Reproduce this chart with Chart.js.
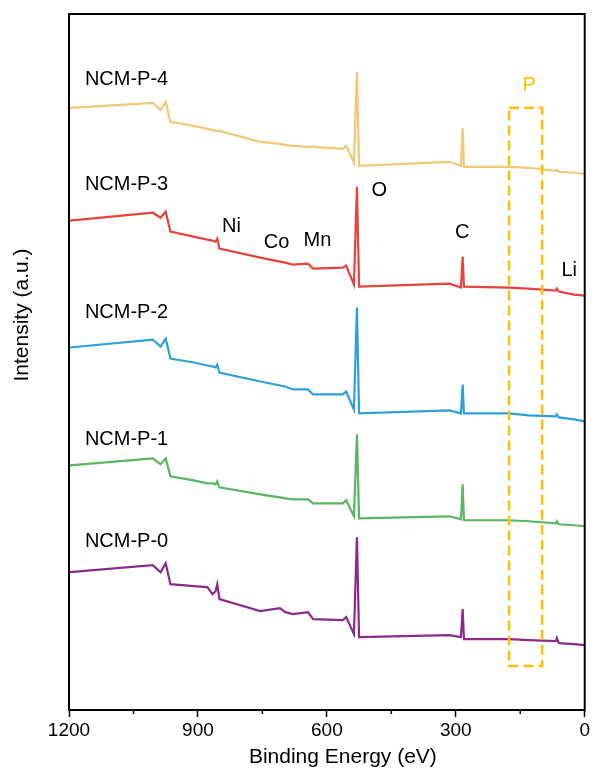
<!DOCTYPE html>
<html>
<head>
<meta charset="utf-8">
<script src="https://cdn.jsdelivr.net/npm/chart.js@4.4.1/dist/chart.umd.min.js"></script>
<style>
  html, body { margin: 0; padding: 0; background: #fff; }
</style>
</head>
<body>
<canvas id="xps" width="592" height="772"></canvas>
<script>
const energies = [1198, 1005, 987, 975, 964, 910, 878, 866, 859, 855, 850, 755, 709, 697, 679, 644, 632,
                  563, 555, 537, 530, 525, 315, 288, 284, 281, 176, 130, 67, 65, 60, 25, 0];

// stacked intensities (a.u.), one list per sample
const ncmP4 = [603, 608, 601, 609, 589, 585, 582, 581, 580, 580, 580, 569, 567, 566, 565, 564, 564,
               562, 565, 548, 639, 545, 549, 545, 583, 544, 544, 543, 540, 541, 539, 538, 537];
const ncmP3 = [490, 498, 493, 499, 479, 474, 471, 470, 469, 472, 462, 453, 449, 448, 446, 447, 442,
               443, 445, 426, 524, 424, 427, 423, 454, 424, 423, 422, 420, 422, 419, 416, 415];
const ncmP2 = [363, 371, 364, 372, 352, 348, 345, 344, 343, 346, 338, 329, 325, 324, 321, 321, 316,
               316, 319, 301, 403, 297, 300, 297, 326, 297, 297, 295, 294, 296, 293, 291, 289];
const ncmP1 = [245, 252, 246, 252, 234, 230, 227, 227, 226, 229, 223, 216, 213, 212, 211, 211, 207,
               207, 210, 194, 276, 192, 194, 191, 226, 190, 190, 189, 187, 189, 186, 185, 184];
const ncmP0 = [138, 145, 138, 147, 126, 124, 123, 116, 119, 126, 111, 99, 102, 98, 96, 98, 91,
               90, 93, 76, 173, 73, 75, 73, 101, 71, 71, 70, 69, 72, 67, 66, 65];

const sampleNames = ["NCM-P-4", "NCM-P-3", "NCM-P-2", "NCM-P-1", "NCM-P-0"];
const sampleData = [ncmP4, ncmP3, ncmP2, ncmP1, ncmP0];
const sampleColors = ["#F3C778", "#E5433B", "#2E9FD9", "#5CB560", "#8B2A8C"];

// element labels and the P 2p window
const elementNames = ["Ni", "Co", "Mn", "O", "C", "Li"];
const xTickValues = [1200, 900, 600, 300, 0];

// where the text annotations sit, in data units
const sampleLabelAt = { energy: 1163, intensity: [631, 526, 398, 271, 169] };
const elementLabelAt = { energy: [822, 717, 622, 478, 285, 36], intensity: [484, 468, 470, 520, 478, 440] };
const pWindow = { from: 176, to: 99, low: 44, high: 603, labelEnergy: 129, labelIntensity: 625 };

const FONT = '"Liberation Sans", Arial, sans-serif';

const datasets = sampleData.map((vals, i) => ({
    label: sampleNames[i],
    data: energies.map((e, k) => ({ x: e, y: vals[k] })),
    borderColor: sampleColors[i],
    borderWidth: 2.2,
    pointRadius: 0,
    tension: 0,
    fill: false
}));

const decor = {
    id: "decor",
    afterDatasetsDraw(chart) {
        const { ctx, chartArea: a, scales: { x, y } } = chart;
        ctx.save();

        // dashed P window
        ctx.strokeStyle = "#FFC000";
        ctx.lineWidth = 2.5;
        ctx.setLineDash([10, 5]);
        const bx1 = x.getPixelForValue(pWindow.from), bx2 = x.getPixelForValue(pWindow.to);
        const by1 = y.getPixelForValue(pWindow.high), by2 = y.getPixelForValue(pWindow.low);
        ctx.strokeRect(bx1, by1, bx2 - bx1, by2 - by1);
        ctx.setLineDash([]);

        ctx.textBaseline = "middle";
        ctx.font = "20px " + FONT;
        ctx.fillStyle = "#FFC000";
        ctx.textAlign = "center";
        ctx.fillText("P", x.getPixelForValue(pWindow.labelEnergy), y.getPixelForValue(pWindow.labelIntensity));

        ctx.fillStyle = "#000";
        ctx.textAlign = "left";
        sampleNames.forEach((n, i) => {
            ctx.fillText(n, x.getPixelForValue(sampleLabelAt.energy), y.getPixelForValue(sampleLabelAt.intensity[i]));
        });
        ctx.textAlign = "center";
        elementNames.forEach((n, i) => {
            ctx.fillText(n, x.getPixelForValue(elementLabelAt.energy[i]), y.getPixelForValue(elementLabelAt.intensity[i]));
        });

        // frame
        ctx.strokeStyle = "#000";
        ctx.lineWidth = 2;
        ctx.strokeRect(a.left, a.top, a.right - a.left, a.bottom - a.top);

        // minor ticks
        ctx.lineWidth = 1.5;
        x.ticks.forEach(t => {
            if (t.value % 300 !== 0) {
                const px = x.getPixelForValue(t.value);
                ctx.beginPath();
                ctx.moveTo(px, a.bottom);
                ctx.lineTo(px, a.bottom + 4);
                ctx.stroke();
            }
        });

        // axis titles
        ctx.font = "21px " + FONT;
        ctx.textAlign = "center";
        ctx.fillText("Binding Energy (eV)", (a.left + a.right) / 2 + 16, a.bottom + 47);
        ctx.translate(22, (a.top + a.bottom) / 2 - 47);
        ctx.rotate(-Math.PI / 2);
        ctx.fillText("Intensity (a.u.)", 0, 0);
        ctx.restore();
    }
};

new Chart(document.getElementById("xps"), {
    type: "line",
    data: { datasets },
    plugins: [decor],
    options: {
        responsive: false,
        animation: false,
        devicePixelRatio: 1,
        layout: { padding: { left: 0, right: 6, top: 14, bottom: 0 } },
        plugins: { legend: { display: false }, tooltip: { enabled: false } },
        scales: {
            x: {
                type: "linear",
                reverse: true,
                min: 0,
                max: 1200,
                afterFit: s => { s.height = 62; },
                ticks: {
                    stepSize: 150,
                    autoSkip: false,
                    maxRotation: 0,
                    padding: 2,
                    color: "#000",
                    font: { family: FONT, size: 19 },
                    callback: v => (xTickValues.includes(v) ? v : "")
                },
                grid: {
                    drawOnChartArea: false,
                    tickLength: 7,
                    tickWidth: 1.5,
                    tickColor: c => (c.tick && c.tick.value % 300 === 0 ? "#000" : "rgba(0,0,0,0)")
                },
                border: { display: false }
            },
            y: {
                min: 0,
                max: 697,
                afterFit: s => { s.width = 69; },
                ticks: { display: false },
                grid: { display: false },
                border: { display: false }
            }
        }
    }
});
</script>
</body>
</html>
